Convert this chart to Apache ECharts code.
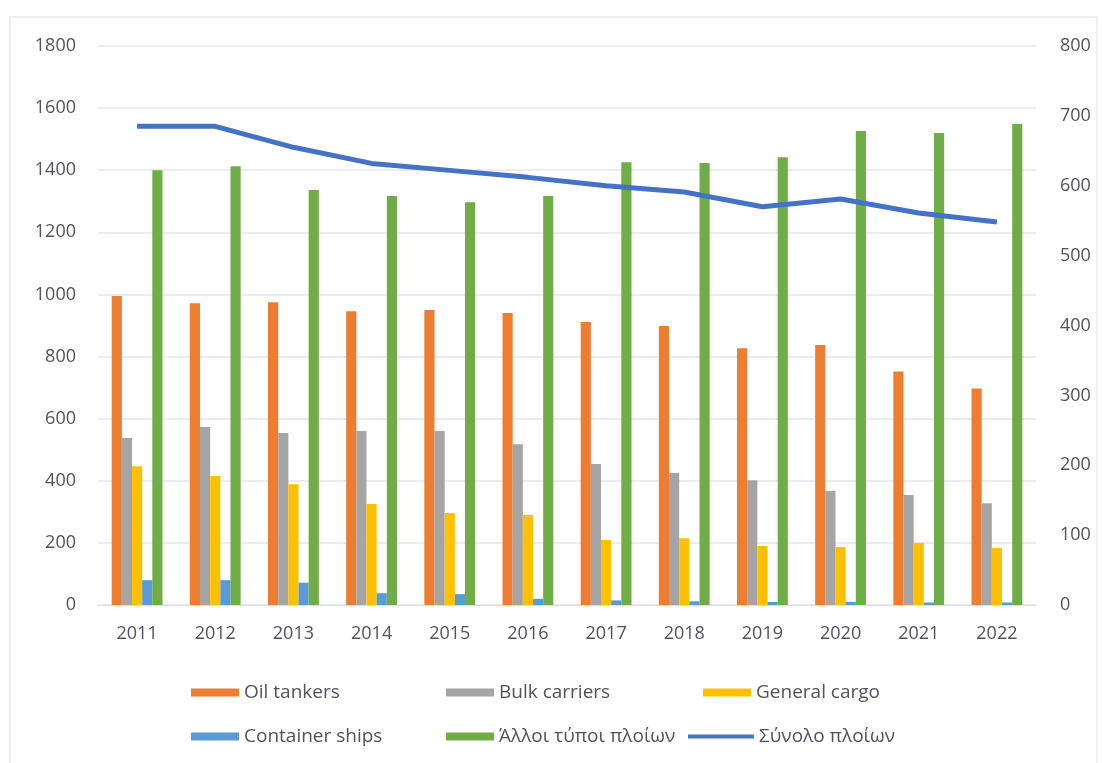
<!DOCTYPE html>
<html>
<head>
<meta charset="utf-8">
<script src="https://cdn.jsdelivr.net/npm/echarts@6/dist/echarts.min.js"></script>
<style>
  html, body { margin: 0; padding: 0; background: #fff; }
  #chart { width: 1102px; height: 763px; }
</style>
</head>
<body>
<div id="chart"></div>
<script>
const years = ["2011", "2012", "2013", "2014", "2015", "2016", "2017", "2018", "2019", "2020", "2021", "2022"];
const oilTankers = [995, 972, 975, 946, 950, 940, 911, 898, 827, 837, 752, 697];
const bulkCarriers = [538, 573, 554, 560, 560, 518, 454, 425, 402, 367, 354, 328];
const generalCargo = [447, 415, 389, 325, 296, 290, 209, 215, 190, 187, 200, 184];
const containerShips = [80, 80, 72, 38, 35, 20, 15, 12, 10, 10, 8, 8];
const otherShips = [1400, 1413, 1336, 1317, 1297, 1317, 1426, 1423, 1442, 1526, 1520, 1549];
const totalShips = [685, 685, 655, 632, 622, 612, 600, 591, 570, 581, 561, 548];

const leftTicks = [0, 1800, 200];
const rightTicks = [0, 800, 100];

const chart = echarts.init(document.getElementById("chart"));
const textColor = "#52525e";
const font = "Open Sans";

function barSeries(name, color, data) {
  return {
    name: name,
    type: "bar",
    yAxisIndex: 0,
    barGap: "0%",
    barCategoryGap: "35%",
    itemStyle: { color: color },
    data: data
  };
}

// one legend per column so the items line up like the original
function legendCol(left, top, names, w, h) {
  return {
    orient: "vertical",
    left: left,
    top: top,
    itemWidth: w,
    itemHeight: h,
    itemGap: 25,
    icon: "rect",
    textStyle: { fontSize: 19, fontFamily: font, color: textColor },
    data: names
  };
}

let option = {
  animation: false,
  backgroundColor: "#fff",
  graphic: [
    {
      type: "rect",
      shape: { x: 10, y: 17, width: 1087, height: 760 },
      style: { fill: "none", stroke: "#e8eaf0", lineWidth: 1.5 }
    }
  ],
  grid: { left: 98, right: 66, top: 46, bottom: 158 },
  legend: [
    legendCol(186, 678, ["Oil tankers", "Container ships"], 48, 8),
    legendCol(441, 678, ["Bulk carriers", "Άλλοι τύποι πλοίων"], 48, 8),
    legendCol(698, 678, ["General cargo"], 48, 8),
    legendCol(683, 722, ["Σύνολο πλοίων"], 66, 4)
  ],
  xAxis: {
    type: "category",
    data: years,
    axisTick: { show: false },
    axisLine: { lineStyle: { color: "#d9dde6", width: 1 } },
    axisLabel: { color: textColor, fontSize: 18, fontFamily: font, margin: 20 }
  },
  yAxis: [
    {
      type: "value",
      min: leftTicks[0],
      max: leftTicks[1],
      interval: leftTicks[2],
      axisLine: { show: false },
      axisTick: { show: false },
      splitLine: { lineStyle: { color: "#e3e6ee", width: 1.5 } },
      axisLabel: { color: textColor, fontSize: 18, fontFamily: font, margin: 22, formatter: (v) => String(v) }
    },
    {
      type: "value",
      min: rightTicks[0],
      max: rightTicks[1],
      interval: rightTicks[2],
      axisLine: { show: false },
      axisTick: { show: false },
      splitLine: { show: false },
      axisLabel: { color: textColor, fontSize: 18, fontFamily: font, margin: 24, formatter: (v) => String(v) }
    }
  ],
  series: [
    barSeries("Oil tankers", "#ED7D31", oilTankers),
    barSeries("Bulk carriers", "#A5A5A5", bulkCarriers),
    barSeries("General cargo", "#FFC000", generalCargo),
    barSeries("Container ships", "#5B9BD5", containerShips),
    barSeries("Άλλοι τύποι πλοίων", "#70AD47", otherShips),
    {
      name: "Σύνολο πλοίων",
      type: "line",
      yAxisIndex: 1,
      symbol: "none",
      smooth: false,
      itemStyle: { color: "#4472C4" },
      lineStyle: { color: "#4472C4", width: 5 },
      data: totalShips
    }
  ]
};
chart.setOption(option);
</script>
</body>
</html>
